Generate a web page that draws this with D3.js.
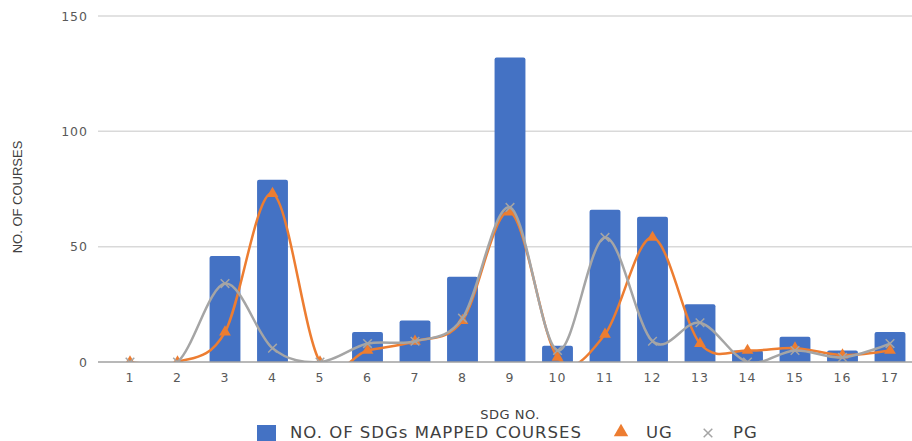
<!DOCTYPE html>
<html>
<head>
<meta charset="utf-8">
<script src="https://cdn.jsdelivr.net/npm/d3@7"></script>
<style>
  body { margin: 0; background: #fff; }
  svg { display: block; }
</style>
</head>
<body>
<div id="chart"></div>
<script>
// chart values
const sdgNo = ["1","2","3","4","5","6","7","8","9","10","11","12","13","14","15","16","17"];
const mappedCourses = [0, 0, 46, 79, 0, 13, 18, 37, 132, 7, 66, 63, 25, 5, 11, 5, 13];
const ugCourses = [0, 0, 13, 73, 0, 5, 9, 18, 65, 2, 12, 54, 8, 5, 6, 3, 5];
const pgCourses = [0, 0, 34, 6, 0, 8, 9, 19, 67, 5, 54, 9, 17, 0, 5, 2, 8];
const yTicks = [0, 50, 100, 150];

const W = 912, H = 441;
const blue = "#4472C4", orange = "#ED7D31", grey = "#A5A5A5";
const font = "'DejaVu Sans', sans-serif";

const svg = d3.select("#chart")
    .append("svg")
    .attr("width", W)
    .attr("height", H);

//scales
const x = d3.scaleBand()
    .domain(sdgNo)
    .range([106.25, 913.75])
    .paddingInner(0.35)
    .paddingOuter(0.175);
const y = d3.scaleLinear()
    .domain([0, 150])
    .range([362, 16]);
const cx = d => x(d) + x.bandwidth() / 2;

//gridlines
svg.append("g")
    .selectAll("line")
    .data(yTicks.slice(1))
    .join("line")
    .attr("x1", 98).attr("x2", 912)
    .attr("y1", d => y(d)).attr("y2", d => y(d))
    .attr("stroke", "#d9d9d9")
    .attr("stroke-width", 1.5);

//y tick labels
svg.append("g")
    .selectAll("text")
    .data(yTicks)
    .join("text")
    .attr("x", 88)
    .attr("y", d => y(d))
    .attr("dy", "0.36em")
    .attr("text-anchor", "end")
    .attr("font-family", font)
    .attr("font-size", 12.5)
    .attr("letter-spacing", 1)
    .attr("fill", "#595959")
    .text(d => d);

//clip for everything inside the plot area
svg.append("clipPath")
    .attr("id", "plot")
    .append("rect")
    .attr("x", 98).attr("y", 0)
    .attr("width", W - 98).attr("height", y(0));

//bars (zero values draw nothing)
svg.append("g")
    .selectAll("rect")
    .data(sdgNo.filter((d, i) => mappedCourses[i] > 0))
    .join("rect")
    .attr("x", d => x(d))
    .attr("y", d => y(mappedCourses[sdgNo.indexOf(d)]))
    .attr("width", x.bandwidth())
    .attr("height", d => y(0) - y(mappedCourses[sdgNo.indexOf(d)]) + 3)
    .attr("rx", 2)
    .attr("fill", blue)
    .attr("clip-path", "url(#plot)");

const line = vals => d3.line()
    .x(d => cx(d))
    .y((d, i) => y(vals[i]))
    .curve(d3.curveCardinal.tension(0))(sdgNo);

const plot = svg.append("g").attr("clip-path", "url(#plot)");

//UG line and markers
plot.append("path")
    .attr("d", line(ugCourses))
    .attr("fill", "none")
    .attr("stroke", orange)
    .attr("stroke-width", 2.5);
plot.append("g")
    .selectAll("path")
    .data(sdgNo)
    .join("path")
    .attr("transform", (d, i) => `translate(${cx(d)},${y(ugCourses[i])})`)
    .attr("d", d3.symbol(d3.symbolTriangle, 60))
    .attr("fill", orange);

//PG line and markers
plot.append("path")
    .attr("d", line(pgCourses))
    .attr("fill", "none")
    .attr("stroke", grey)
    .attr("stroke-width", 2.5);
plot.append("g")
    .selectAll("path")
    .data(sdgNo)
    .join("path")
    .attr("transform", (d, i) => `translate(${cx(d)},${y(pgCourses[i])})`)
    .attr("d", d3.symbol(d3.symbolX, 50))
    .attr("fill", "none")
    .attr("stroke", grey)
    .attr("stroke-width", 1.5);

//x axis line on top
svg.append("line")
    .attr("x1", 98).attr("x2", 912)
    .attr("y1", y(0)).attr("y2", y(0))
    .attr("stroke", "#a0a0a0")
    .attr("stroke-width", 1.5);

//x tick labels
svg.append("g")
    .selectAll("text")
    .data(sdgNo)
    .join("text")
    .attr("x", d => cx(d))
    .attr("y", 382)
    .attr("text-anchor", "middle")
    .attr("font-family", font)
    .attr("font-size", 12.5)
    .attr("letter-spacing", 1)
    .attr("fill", "#595959")
    .text(d => d);

//axis titles
svg.append("text")
    .attr("transform", "translate(22,197) rotate(-90)")
    .attr("text-anchor", "middle")
    .attr("font-family", "'Liberation Sans Narrow', 'Liberation Sans', sans-serif")
    .attr("font-size", 13)
    .attr("fill", "#404040")
    .text("NO. OF COURSES");

svg.append("text")
    .attr("x", 510)
    .attr("y", 419)
    .attr("text-anchor", "middle")
    .attr("font-family", font)
    .attr("font-size", 13)
    .attr("letter-spacing", 0.5)
    .attr("fill", "#404040")
    .text("SDG NO.");

//legend
const legend = svg.append("g").attr("font-family", font).attr("font-size", 16.5).attr("fill", "#404040");
legend.append("rect")
    .attr("x", 257).attr("y", 425)
    .attr("width", 19).attr("height", 19)
    .attr("fill", blue);
legend.append("text").attr("x", 290).attr("y", 438).attr("letter-spacing", 1).text("NO. OF SDGs MAPPED COURSES");
legend.append("path")
    .attr("transform", "translate(621,432)")
    .attr("d", d3.symbol(d3.symbolTriangle, 90))
    .attr("fill", orange);
legend.append("text").attr("x", 646).attr("y", 438).attr("letter-spacing", 1).text("UG");
legend.append("path")
    .attr("transform", "translate(708,433)")
    .attr("d", d3.symbol(d3.symbolX, 50))
    .attr("fill", "none")
    .attr("stroke", grey)
    .attr("stroke-width", 1.5);
legend.append("text").attr("x", 733).attr("y", 438).attr("letter-spacing", 1).text("PG");
</script>
</body>
</html>
